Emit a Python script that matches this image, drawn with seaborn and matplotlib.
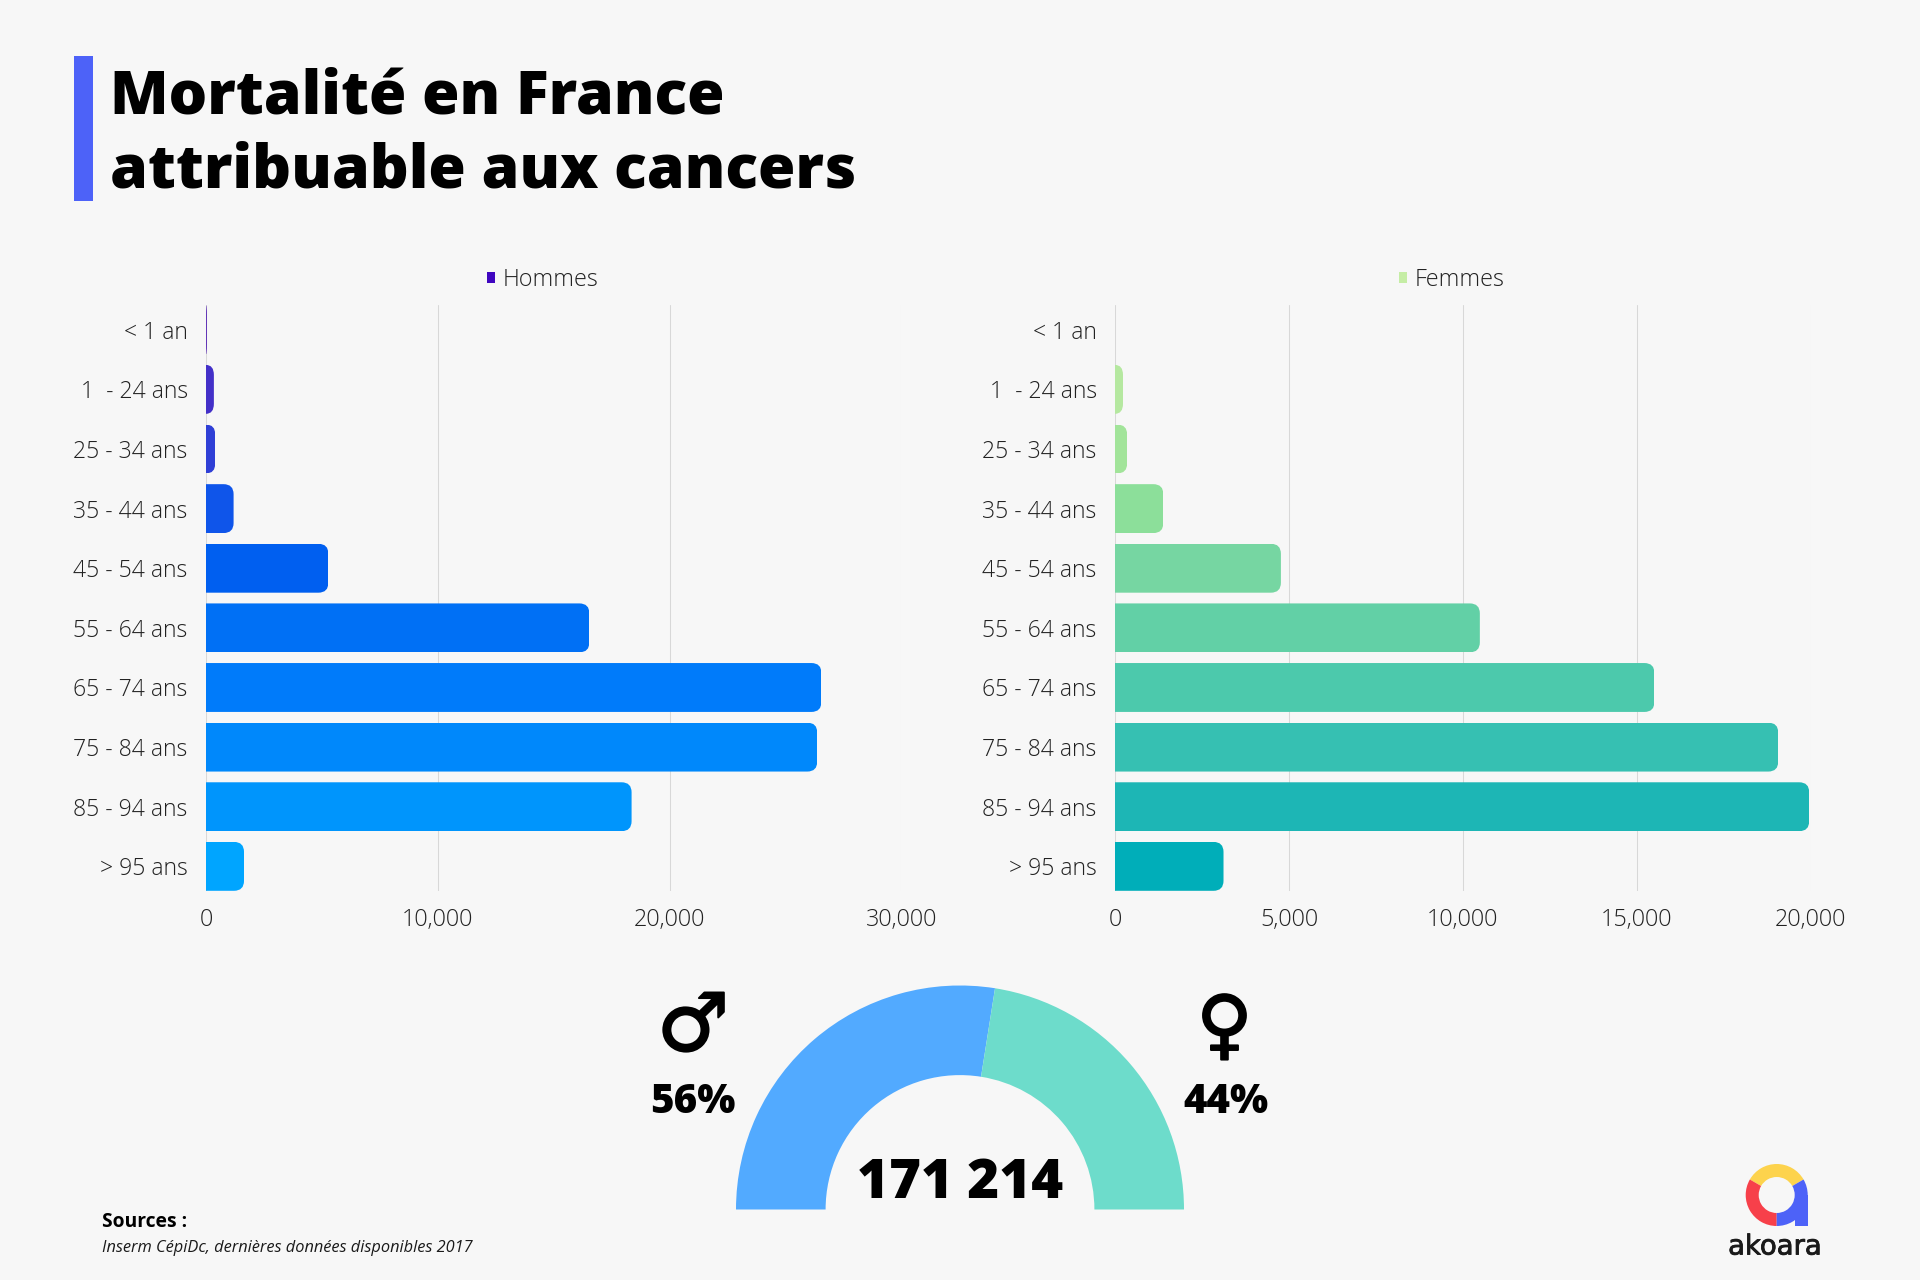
import matplotlib
matplotlib.use("Agg")
import matplotlib.pyplot as plt
import matplotlib.patheffects as pe
import seaborn as sns
import pandas as pd
from matplotlib.patches import Rectangle, Wedge, PathPatch, Patch
from matplotlib.path import Path
from matplotlib.ticker import FuncFormatter, FixedLocator

W, H = 1920, 1280
BG = "#f7f7f7"

age_labels = ["< 1 an", "1  - 24 ans", "25 - 34 ans", "35 - 44 ans", "45 - 54 ans",
              "55 - 64 ans", "65 - 74 ans", "75 - 84 ans", "85 - 94 ans", "> 95 ans"]
hommes = [40, 340, 400, 1190, 5280, 16540, 26550, 26370, 18360, 1640]
femmes = [10, 230, 350, 1390, 4770, 10490, 15510, 19070, 19960, 3120]
colors_h = ["#5a2ab5", "#4330c8", "#2f3fd6", "#0f55ea", "#005ff0",
            "#0070f5", "#007bfa", "#0088fb", "#0095fc", "#00a5ff"]
colors_f = ["#c5eda5", "#b5e8a0", "#a2e49a", "#8cdf9a", "#76d6a2",
            "#62d0a6", "#4cc9ac", "#36c0b2", "#1db6b5", "#00aeb9"]
ticks_h = [0, 10000, 20000, 30000]
ticks_f = [0, 5000, 10000, 15000, 20000]
gauge_shares = [55, 45]
gauge_colors = ["#52aaff", "#6ddccb"]

sns.set_theme(style="whitegrid", rc={"axes.facecolor": BG, "figure.facecolor": BG})
plt.rcParams["font.family"] = ["Open Sans", "DejaVu Sans"]

fig = plt.figure(figsize=(W / 100, H / 100), dpi=100, facecolor=BG)


def axes_px(x0, y0, x1, y1, **kw):
    return fig.add_axes([x0 / W, 1 - y1 / H, (x1 - x0) / W, (y1 - y0) / H], **kw)


# overlay in pixel coordinates for the decoration
deco = fig.add_axes([0, 0, 1, 1], zorder=5)
deco.set_xlim(0, W)
deco.set_ylim(H, 0)
deco.axis("off")
deco.patch.set_alpha(0)


def rounded_right(x, y0, y1, rx, ry):
    """Clip outline for a horizontal bar ending at x with rounded right corners."""
    verts = [(0, y0), (x - rx, y0), (x, y0), (x, y0 + ry), (x, y1 - ry), (x, y1), (x - rx, y1), (0, y1), (0, y0)]
    codes = [Path.MOVETO, Path.LINETO, Path.CURVE3, Path.CURVE3, Path.LINETO, Path.CURVE3, Path.CURVE3,
             Path.LINETO, Path.CLOSEPOLY]
    return Path(verts, codes)


def pyramid(box, values, colors, xmax, ticks, label):
    ax = axes_px(*box)
    df = pd.DataFrame({"age": age_labels, "n": values})
    sns.barplot(data=df, y="age", x="n", hue="age", palette=colors, dodge=False, legend=False,
                orient="h", width=0.82, saturation=1, ax=ax, zorder=3, linewidth=0)
    ax.set_xlim(0, xmax)
    ax.set_ylim(9.41, -0.41)
    ax.set_xlabel("")
    ax.set_ylabel("")
    ax.set_facecolor(BG)
    for s in ax.spines.values():
        s.set_visible(False)
    ax.grid(False)
    ax.grid(True, axis="x", color="#d8d8d8", linewidth=0.75, zorder=0)
    ax.set_axisbelow(True)
    ax.xaxis.set_major_locator(FixedLocator(ticks))
    ax.xaxis.set_major_formatter(FuncFormatter(lambda v, _: f"{int(v):,}"))
    ax.tick_params(axis="x", length=0, pad=12.5, labelsize=16.8, labelcolor="#222222")
    ax.tick_params(axis="y", length=0, pad=13.2, labelsize=16.6, labelcolor="#222222")
    for t in ax.get_xticklabels() + ax.get_yticklabels():
        t.set_fontweight(300)
    # rounded bar ends, radius of 10 px converted to data units
    px_x = (box[2] - box[0]) / xmax
    px_y = (box[3] - box[1]) / (9.41 + 0.41)
    for bar in ax.patches:
        x, y, w, h = bar.get_x(), bar.get_y(), bar.get_width(), bar.get_height()
        rx = min(10 / px_x, w)
        ry = 10 / px_y
        bar.set_clip_path(PathPatch(rounded_right(x + w, y, y + h, rx, ry), transform=ax.transData))
    handle = Patch(facecolor=colors[0] if label == "Femmes" else "#3f06c0", linewidth=0)
    return ax, handle


ax_h, hh = pyramid((206, 305.3, 901.4, 890.8), hommes, colors_h, 30000, ticks_h, "Hommes")
ax_f, hf = pyramid((1115, 305.3, 1810.6, 890.8), femmes, colors_f, 20000, ticks_f, "Femmes")

for ax, handle, label, cx in [(ax_h, hh, "Hommes", 542.5), (ax_f, hf, "Femmes", 1451.6)]:
    leg = ax.legend(handles=[handle], labels=[label], loc="center",
                    bbox_to_anchor=(cx / W, 1 - 280 / H), bbox_transform=fig.transFigure,
                    frameon=False, handlelength=0.34, handleheight=0.34,
                    handletextpad=0.32, labelcolor="#222222", borderpad=0, prop={"size": 16.8, "weight": 300})

# title block
deco.add_patch(Rectangle((73.6, 56), 19.8, 144.7, facecolor="#4d62f8", edgecolor="none"))
deco.text(110, 114, "Mortalité en France", fontsize=43.75, fontweight=800, color="black", va="baseline")
deco.text(110, 187.5, "attribuable aux cancers", fontsize=43.75, fontweight=800, color="black", va="baseline")

# half donut gauge
ax_g = axes_px(960 - 224, 1209.5 - 224, 960 + 224, 1209.5 + 224)
ax_g.pie(gauge_shares + [sum(gauge_shares)], colors=gauge_colors + ["none"], startangle=180, counterclock=False,
         radius=1, wedgeprops={"width": 0.4, "linewidth": 0})
ax_g.set_xlim(-1, 1)
ax_g.set_ylim(-1, 1)
ax_g.patch.set_alpha(0)

deco.text(960, 1198, "171 214", fontsize=39.3, fontweight=800, color="black", ha="center", va="baseline")
deco.text(693, 1113, "56%", fontsize=29, fontweight=800, color="black", ha="center", va="baseline")
deco.text(1225.5, 1113, "44%", fontsize=29, fontweight=800, color="black", ha="center", va="baseline")
thick = [pe.withStroke(linewidth=1.4, foreground="black")]
deco.text(693, 1020, "\u2642", fontsize=58, fontweight="bold", family="DejaVu Sans", color="black",
          ha="center", va="center_baseline", path_effects=thick)
deco.text(1224.5, 1021, "\u2640", fontsize=55, fontweight="bold", family="DejaVu Sans", color="black",
          ha="center", va="center_baseline", path_effects=thick)

# sources
deco.text(102, 1222, "Sources :", fontsize=13.9, fontweight=700, color="black", va="center")
deco.text(102, 1248, "Inserm CépiDc, dernières données disponibles 2017", fontsize=11.8, style="italic",
          color="#1a1a1a", va="center")

# logo
c = (1776.7, 1195)
deco.add_patch(Wedge(c, 31, -150, -30, width=13, facecolor="#fdd34d", edgecolor="none"))
deco.add_patch(Wedge(c, 31, 90, 210, width=13, facecolor="#f7404a", edgecolor="none"))
deco.add_patch(Wedge(c, 31, -30, 90, width=13, facecolor="#4d62f8", edgecolor="none"))
deco.add_patch(Rectangle((1794.7, 1195), 13, 31, facecolor="#4d62f8", edgecolor="none"))
deco.text(1775, 1254.5, "akoara", fontsize=19.8, fontweight="normal", family="DejaVu Sans", color="#1a1a1a",
          ha="center", va="baseline", path_effects=[pe.withStroke(linewidth=0.6, foreground="#1a1a1a")])

fig.savefig("out.png", dpi=100, facecolor=BG)
